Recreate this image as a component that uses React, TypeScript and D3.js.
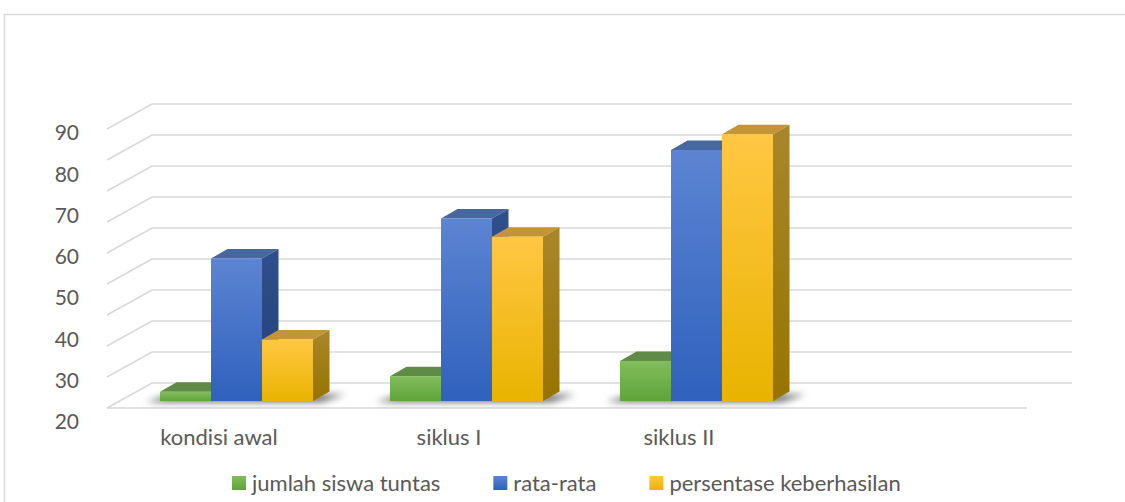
import React, { useEffect, useRef } from 'react';
import * as d3 from 'd3';

// categories on the x axis (the chart leaves one empty slot at the end)
const categories = ['kondisi awal', 'siklus I', 'siklus II', ''];
const seriesNames = ['jumlah siswa tuntas', 'rata-rata', 'persentase keberhasilan'];
const jumlahSiswaTuntas = [27.3, 31.1, 34.8];
const rataRata = [59.6, 69.3, 85.9];
const persentaseKeberhasilan = [40, 64.9, 89.7];
const yTicks = [20, 30, 40, 50, 60, 70, 80, 90];
const wallTicks = [20, 30, 40, 50, 60, 70, 80, 90, 100, 110];

const W = 1125;
const H = 502;
const font = 'Lato, "Open Sans", sans-serif';
const textColor = '#595959';

// colors: [front top, front bottom, top face, side top, side bottom]
const palette = [
    ['#82bd5c', '#5fa43a', '#5f8b47', '#4d7a33', '#3f6a28'],
    ['#5c84d2', '#2f61bd', '#47679f', '#304f8c', '#223f78'],
    ['#ffc743', '#e9b300', '#c39536', '#a9862a', '#977400']
];

export default function App() {
    const ref = useRef<SVGSVGElement>(null);

    useEffect(() => {
        const svg = d3.select(ref.current);
        svg.selectAll('*').remove();

        const series = [jumlahSiswaTuntas, rataRata, persentaseKeberhasilan];

        // front edge of the floor and the back wall
        const floorFront = 408;
        const depthX = 45;
        const depthY = -25;
        const x = d3.scaleBand<number>()
            .domain(d3.range(categories.length))
            .range([107, 1027]);
        const inner = d3.scaleBand<number>()
            .domain(d3.range(series.length))
            .range([-76.5, 76.5]);
        // value scale of the front faces (matches the axis labels)
        const y = d3.scaleLinear().domain([20, 90]).range([422, 133]);
        // value scale of the back wall gridlines
        const wall = d3.scaleLinear().domain([20, 110]).range([383, 104]);

        const defs = svg.append('defs');
        palette.forEach((p, i) => {
            const g = defs.append('linearGradient')
                .attr('id', 'front' + i)
                .attr('x1', 0).attr('y1', 0).attr('x2', 0).attr('y2', 1);
            g.append('stop').attr('offset', '0%').attr('stop-color', p[0]);
            g.append('stop').attr('offset', '100%').attr('stop-color', p[1]);
            const s = defs.append('linearGradient')
                .attr('id', 'side' + i)
                .attr('x1', 0).attr('y1', 0).attr('x2', 0).attr('y2', 1);
            s.append('stop').attr('offset', '0%').attr('stop-color', p[3]);
            s.append('stop').attr('offset', '100%').attr('stop-color', p[4]);
        });
        defs.append('filter')
            .attr('id', 'soft')
            .attr('x', '-20%').attr('y', '-100%').attr('width', '140%').attr('height', '300%')
            .append('feGaussianBlur')
            .attr('stdDeviation', 3.5);
        defs.append('filter')
            .attr('id', 'grid')
            .append('feGaussianBlur')
            .attr('stdDeviation', 0.5);

        // chart frame
        svg.append('rect')
            .attr('x', 4.5).attr('y', 14.5)
            .attr('width', W + 20).attr('height', H + 20)
            .attr('fill', 'white')
            .attr('stroke', '#d9d9d9')
            .attr('stroke-width', 1.5);

        const backLeft = x.range()[0] + depthX;
        const backRight = x.range()[1] + depthX;

        // gridlines: side wall diagonal + back wall line
        const grid = svg.append('g')
            .attr('stroke', '#d9d9d9')
            .attr('stroke-width', 1.6)
            .attr('fill', 'none')
            .attr('filter', 'url(#grid)');
        grid.selectAll('path')
            .data(wallTicks)
            .enter()
            .append('path')
            .attr('d', (t) => {
                const yb = wall(t);
                return 'M' + x.range()[0] + ',' + (yb - depthY) + 'L' + backLeft + ',' + yb + 'L' + backRight + ',' + yb;
            });
        // front edge of the floor
        grid.append('line')
            .attr('x1', x.range()[0]).attr('x2', x.range()[1])
            .attr('y1', floorFront).attr('y2', floorFront);

        // bars sit a little behind the front edge
        const shift = 14.5;
        const base = 401;
        const bdx = 16.5;
        const bdy = -9.5;
        const bw = inner.bandwidth();

        categories.forEach((c, i) => {
            if (i >= jumlahSiswaTuntas.length) return;
            const cx = (x(i) as number) + x.bandwidth() / 2 + shift;
            const left = cx + (inner(0) as number);
            const right = cx + (inner(series.length - 1) as number) + bw;

            // soft shadow on the floor
            svg.append('path')
                .attr('d', 'M' + (left - 14) + ',' + (base + 1) +
                    'L' + (right + 8) + ',' + (base + 1) +
                    'L' + (right + bdx + 16) + ',' + (base + bdy + 3) +
                    'L' + (left + bdx - 6) + ',' + (base + bdy + 3) + 'Z')
                .attr('fill', '#000')
                .attr('opacity', 0.6)
                .attr('filter', 'url(#soft)');

            series.forEach((vals, s) => {
                const x0 = cx + (inner(s) as number);
                const x1 = x0 + bw;
                const yt = y(vals[i]);
                const g = svg.append('g');
                // top face
                g.append('path')
                    .attr('d', 'M' + x0 + ',' + yt + 'L' + x1 + ',' + yt +
                        'L' + (x1 + bdx) + ',' + (yt + bdy) + 'L' + (x0 + bdx) + ',' + (yt + bdy) + 'Z')
                    .attr('fill', palette[s][2]);
                // side face
                g.append('path')
                    .attr('d', 'M' + x1 + ',' + yt + 'L' + (x1 + bdx) + ',' + (yt + bdy) +
                        'L' + (x1 + bdx) + ',' + (base + bdy) + 'L' + x1 + ',' + base + 'Z')
                    .attr('fill', 'url(#side' + s + ')');
                // front face
                g.append('rect')
                    .attr('x', x0).attr('y', yt)
                    .attr('width', bw).attr('height', base - yt)
                    .attr('fill', 'url(#front' + s + ')');
            });
        });

        // y axis labels
        svg.append('g')
            .selectAll('text')
            .data(yTicks)
            .enter()
            .append('text')
            .attr('x', 79)
            .attr('y', (d) => y(d))
            .attr('dy', '0.35em')
            .attr('text-anchor', 'end')
            .style('font-family', font)
            .style('font-size', '21px')
            .style('fill', textColor)
            .text((d) => d);

        // category labels
        svg.append('g')
            .selectAll('text')
            .data(categories)
            .enter()
            .append('text')
            .attr('x', (d, i) => (x(i) as number) + x.bandwidth() / 2 - 3)
            .attr('y', 437)
            .attr('dy', '0.35em')
            .attr('text-anchor', 'middle')
            .style('font-family', font)
            .style('font-size', '22px')
            .style('fill', textColor)
            .text((d) => d);

        // legend
        const legend = svg.append('g');
        let lx = 232;
        seriesNames.forEach((name, s) => {
            legend.append('rect')
                .attr('x', lx).attr('y', 476)
                .attr('width', 14).attr('height', 14)
                .attr('fill', 'url(#front' + s + ')');
            const t = legend.append('text')
                .attr('x', lx + 20)
                .attr('y', 483)
                .attr('dy', '0.35em')
                .style('font-family', font)
                .style('font-size', '22px')
                .style('fill', textColor)
                .text(name);
            const len = (t.node() as SVGTextElement).getComputedTextLength();
            lx += 20 + len + 53;
        });
    }, []);

    return (
        <svg
            ref={ref}
            width={W}
            height={H}
            style={{ position: 'absolute', left: 0, top: 0, background: 'white' }}></svg>
    );
}
